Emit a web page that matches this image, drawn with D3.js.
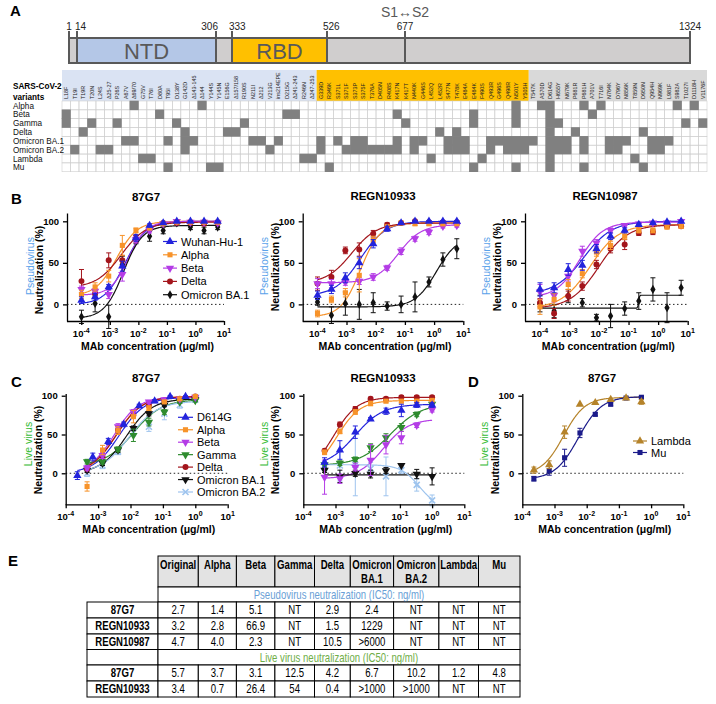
<!DOCTYPE html>
<html><head><meta charset="utf-8">
<script src="https://cdn.jsdelivr.net/npm/d3@7"></script>
<style>body{margin:0;background:#fff}svg{display:block}text{font-family:Arial,"Liberation Sans",sans-serif}</style>
</head><body><svg id="c" width="716" height="704"></svg>
<script>
// ---------------- DATA ----------------
const domainTicks = [1, 14, 306, 333, 526, 677, 1324];
const domainNames = ["NTD", "RBD"];
const domainStarts = [14, 333];
const domainEnds = [306, 526];
const mutations = ["L18F","T19I","T19R","T20N","L24S","Δ25-27","P26S","A67V","Δ69/70","G75V","T76I","D80A","T95I","D138Y","G142D","Δ143-145","Δ144","Y144S","Y145N","E156G","Δ157/158","R190S","N211I","Δ212","V213G","ins214EPE","D215G","Δ241-243","R246N","Δ247-253",
"G339D","R346K","S371L","S371F","S373P","S375F","T376A","D405N","R408S","K417N","K417T","N440K","G446S","L452Q","L452R","S477N","T478K","E484A","E484K","F490S","Q493R","G496S","Q498R","N501Y","Y505H",
"T547K","A570D","D614G","H655Y","N679K","P681R","P681H","A701V","T716I","N764K","D796Y","N856K","T859N","D950N","Q954H","N969K","L981F","S982A","T1027I","D1118H","V1176F"];
const regionCounts = [30, 25, 21];
const variants = ["Alpha","Beta","Gamma","Delta","Omicron BA.1","Omicron BA.2","Lambda","Mu"];
const mutAlpha = ["Δ69/70","Δ144","N501Y","A570D","D614G","P681H","T716I","S982A","D1118H"];
const mutBeta = ["L18F","D80A","D215G","Δ241-243","K417N","E484K","N501Y","D614G","A701V"];
const mutGamma = ["L18F","T20N","P26S","D138Y","R190S","K417T","E484K","N501Y","D614G","H655Y","T1027I","V1176F"];
const mutDelta = ["T19R","G142D","E156G","Δ157/158","L452R","T478K","D614G","P681R","D950N"];
const mutBA1 = ["A67V","Δ69/70","T95I","G142D","Δ143-145","N211I","Δ212","ins214EPE","G339D","S371L","S373P","S375F","K417N","N440K","G446S","S477N","T478K","E484A","Q493R","G496S","Q498R","N501Y","Y505H","T547K","D614G","H655Y","N679K","P681H","N764K","D796Y","N856K","Q954H","N969K","L981F"];
const mutBA2 = ["T19I","L24S","Δ25-27","G142D","V213G","G339D","S371F","S373P","S375F","T376A","D405N","R408S","K417N","N440K","S477N","T478K","E484A","Q493R","Q498R","N501Y","Y505H","D614G","H655Y","N679K","P681H","N764K","D796Y","Q954H","N969K"];
const mutLambda = ["G75V","T76I","R246N","Δ247-253","L452Q","F490S","D614G","T859N"];
const mutMu = ["T95I","Y144S","Y145N","R346K","E484K","N501Y","D614G","P681H","D950N"];

const xTickExps = [-4, -3, -2, -1, 0, 1];
const yTicks = [0, 50, 100];

// Pseudovirus (panel B)
const pvConc = [0.0001016, 0.000305, 0.000914, 0.00274, 0.00823, 0.0247, 0.0741, 0.222, 0.667, 2, 6];
const pvNames = ["Wuhan-Hu-1","Alpha","Beta","Delta","Omicron BA.1"];
const b1Vals = [[5,9,21,46,80,95,98,100,100,100,100],[12,21,34,71,89,92,97,99,99,99,99],[18,16,12,36,78,89,97,100,99,99,98],[28,13,53,53,79,92,98,98,98,97,98],[-15,1,-15,48,78,82,89,98,93,89,93]];
const b1Errs = [[4,4,3,6,4,2,1,1,1,1,1],[5,5,7,12,3,2,2,1,1,1,1],[4,3,5,8,4,3,2,1,1,1,1],[14,4,9,6,4,2,1,1,1,1,1],[8,10,14,10,5,6,4,2,3,4,3]];
const b1Fits = [[0,100,0.0035,1.2],[10,100,0.0017,1.2],[11,100,0.0045,1.4],[20,99,0.0025,1.0],[-17,95,0.003,1.3]];
const b2Vals = [[11,18,32,50,73,91,98,100,100,100,100],[-11,6,14,35,77,93,98,97,97,97,97],[25,25,27,28,33,44,64,79,87,94,95],[25,33,65,66,85,96,98,100,99,99,99],[3,-13,1,0,2,-2,0,9,27,54,67]];
const b2Errs = [[5,5,6,7,5,3,1,1,1,1,1],[4,4,5,20,5,3,2,2,2,2,2],[6,5,4,4,4,3,4,3,3,2,2],[8,8,4,8,4,2,1,1,1,1,1],[4,10,14,18,12,5,10,18,6,8,12]];
const b2Fits = [[10,100,0.003,1.0],[-15,98,0.003,1.3],[26,96,0.06,1.1],[25,98,0.0015,1.0],[-3,82,1.2,1.2]];
const b3Vals = [[18,20,42,47,67,82,89,96,98,99,100],[-3,6,24,37,63,71,82,89,89,93,94],[15,11,34,64,74,89,95,97,98,98,100],[2,-11,10,22,48,67,72,86,87,94,94],[1,-8,10,2,-16,-14,-5,4,18,-4,20]];
const b3Errs = [[8,6,7,6,5,4,3,2,1,1,1],[9,7,6,5,5,5,4,3,3,2,2],[9,8,6,6,4,3,2,2,1,1,1],[5,6,6,5,5,5,6,3,3,2,2],[10,8,8,5,4,14,8,10,14,18,9]];
const b3Fits = [[12,100,0.003,0.9],[-5,96,0.005,0.9],[8,99,0.0022,1.1],[-5,96,0.01,0.9],[-4.5,11,0.22,30]];

// Live virus (panels C, D)
const liveConc = [0.000457, 0.00137, 0.00412, 0.0123, 0.037, 0.111, 0.333, 1];
const liveConcB = [0.000229, 0.000686, 0.00206, 0.00617, 0.0185, 0.0556, 0.167, 0.5];
const liveNames = ["D614G","Alpha","Beta","Gamma","Delta","Omicron BA.1","Omicron BA.2"];
const c1Vals = [[-3,21,41,63,87,93,99,99],[-17,30,55,73,84,92,96,99],[7,23,60,79,92,95,96,98],[15,15,31,49,66,79,92,94],[6,21,56,75,88,94,96,99],[4,13,30,58,77,88,93,95],[0,10,28,53,60,77,88,95]];
const c1Errs = [[5,5,4,3,2,2,1,1],[6,6,5,8,3,2,2,1],[3,4,4,3,2,2,2,1],[3,3,3,8,5,3,2,2],[3,3,4,3,3,2,2,1],[3,3,3,3,3,2,2,2],[4,4,4,5,6,8,4,2]];
const c1Fits = [[0,98,0.0045,1.1],[-2,99,0.0035,1.1],[2,98,0.0032,1.2],[10,95,0.0125,1.0],[0,99,0.0037,1.1],[0,96,0.0075,1.1],[0,93,0.009,1.0]];
const c2Vals = [[14,30,53,70,80,81,88,88],[27,54,79,90,93,93,93,94],[-5,-7,8,17,37,46,62,82],[11,13,18,33,46,59,76,89],[29,63,83,96,96,98,98,98],[4,-4,0,-1,3.5,10,-1,-4],[8,10,11,6,-4,4,-15,-35]];
const c2Errs = [[6,12,8,2,4,8,3,3],[3,3,3,3,2,2,2,2],[22,6,5,20,12,8,3,3],[3,3,3,5,5,5,3,2],[2,3,3,2,2,2,2,2],[3,8,4,5,4,0,6,11],[5,20,40,8,25,4,8,7]];
const c2Fits = [[8,89,0.004,1.0],[0,94,0.0011,1.2],[-7,70,0.03,1.1],[10,90,0.05,0.9],[0,98,0.0009,1.2],[-2,-2,0.01,1],[11,-45,0.4,1.5]];
const dNames = ["Lambda","Mu"];
const dVals = [[4,11,53,89,91,95,97,92],[-7,3.5,20,52,76,89,97,98]];
const dErrs = [[4,5,8,0,0,0,0,3],[3,6,11,6,2,2,1,1]];
const dFits = [[-2,98,0.0019,1.3],[-8,99,0.0055,1.2]];

// Table E
const tableCols = ["Original","Alpha","Beta","Gamma","Delta","Omicron BA.1","Omicron BA.2","Lambda","Mu"];
const pvRowNames = ["87G7","REGN10933","REGN10987"];
const pv87G7 = ["2.7","1.4","5.1","NT","2.9","2.4","NT","NT","NT"];
const pvREGN10933 = ["3.2","2.8","66.9","NT","1.5","1229","NT","NT","NT"];
const pvREGN10987 = ["4.7","4.0","2.3","NT","10.5",">6000","NT","NT","NT"];
const liveRowNames = ["87G7","REGN10933"];
const live87G7 = ["5.7","3.7","3.1","12.5","4.2","6.7","10.2","1.2","4.8"];
const liveREGN10933 = ["3.4","0.7","26.4","54","0.4",">1000",">1000","NT","NT"];

// ---------------- DRAW ----------------
const svg = d3.select("#c");
const GREY = "#595959";
function panelLabel(t, x, y){ svg.append("text").attr("x",x).attr("y",y).attr("font-size",15).attr("font-weight","bold").text(t); }
panelLabel("A",10,16); panelLabel("B",11,204); panelLabel("C",11,387); panelLabel("D",468,387); panelLabel("E",8,566);

// Panel A: domain bar
const xs = d3.scaleLinear().domain(domainTicks).range([69,77,216,232,327,405,690]);
const barTop = 38, barBot = 63;
svg.append("rect").attr("x",xs(1)).attr("y",barTop).attr("width",xs(1324)-xs(1)).attr("height",barBot-barTop).attr("fill","#d0cece");
const domFill = ["#b4c7e7","#ffc000"];
domainNames.forEach((n,i)=>{
  svg.append("rect").attr("x",xs(domainStarts[i])).attr("y",barTop).attr("width",xs(domainEnds[i])-xs(domainStarts[i])).attr("height",barBot-barTop).attr("fill",domFill[i]);
  svg.append("text").attr("x",(xs(domainStarts[i])+xs(domainEnds[i]))/2).attr("y",59).attr("text-anchor","middle").attr("font-size",22).attr("fill",GREY).text(n);
});
svg.append("rect").attr("x",xs(1)).attr("y",barTop).attr("width",xs(1324)-xs(1)).attr("height",barBot-barTop).attr("fill","none").attr("stroke",GREY).attr("stroke-width",2);
const tAnchor = ["middle","start","end","start","start","middle","middle"];
const tDx = [0,-2,2,-3,-4,0,0];
domainTicks.forEach((t,i)=>{
  svg.append("line").attr("x1",xs(t)).attr("x2",xs(t)).attr("y1",31).attr("y2",barBot).attr("stroke",GREY).attr("stroke-width",2);
  svg.append("text").attr("x",xs(t)+tDx[i]).attr("y",29.5).attr("text-anchor",tAnchor[i]).attr("font-size",10).attr("fill","#222").text(t);
});
svg.append("text").attr("x",xs(677)).attr("y",17).attr("text-anchor","middle").attr("font-size",14).attr("fill",GREY).text("S1↔S2");

// Panel A: mutation grid
const gx = d3.scaleBand().domain(mutations).range([62,707]);
const gy = d3.scaleBand().domain(variants).range([101,171.7]);
const regionFill = ["#dae3f3","#ffc000","#d9d9d9"];
let ci = 0;
regionCounts.forEach((n,r)=>{
  const a = gx(mutations[ci]), b = gx(mutations[ci+n-1])+gx.bandwidth();
  svg.append("rect").attr("x",a).attr("y",70).attr("width",b-a).attr("height",31).attr("fill",regionFill[r]);
  ci += n;
});
svg.selectAll(".mlab").data(mutations).join("text")
  .attr("transform",d=>`translate(${gx(d)+gx.bandwidth()/2+2},99) rotate(-90)`)
  .attr("font-size",5.4).attr("fill","#222").text(d=>d);
const vMuts = [mutAlpha,mutBeta,mutGamma,mutDelta,mutBA1,mutBA2,mutLambda,mutMu];
variants.forEach(v=>{
  svg.selectAll(null).data(mutations).join("rect").attr("x",d=>gx(d)).attr("y",gy(v)).attr("width",gx.bandwidth()).attr("height",gy.bandwidth())
    .attr("fill","none").attr("stroke","#cfcfcf").attr("stroke-width",0.6);
});
variants.forEach((v,i)=>{
  svg.selectAll(null).data(vMuts[i]).join("rect").attr("x",d=>gx(d)-0.3).attr("y",gy(v)-0.3).attr("width",gx.bandwidth()+0.6).attr("height",gy.bandwidth()+0.6).attr("fill","#808080");
  svg.append("text").attr("x",13).attr("y",gy(v)+gy.bandwidth()/2+3.2).attr("font-size",8.2).attr("fill","#111").text(v);
});
svg.append("text").attr("x",13).attr("y",88.5).attr("font-size",8.2).attr("font-weight","bold").text("SARS-CoV-2");
svg.append("text").attr("x",13).attr("y",99.5).attr("font-size",8.2).attr("font-weight","bold").text("variants");

// ---- dose response plots ----
const symPath = {
  triUp: d3.symbol(d3.symbolTriangle, 30)(),
  triDown: d3.symbol(d3.symbolTriangle, 30)(),
  square: d3.symbol(d3.symbolSquare, 26)(),
  circle: d3.symbol(d3.symbolCircle, 28)(),
  diamond: d3.symbol(d3.symbolDiamond, 24)(),
  x: "M-3,-3L3,3M-3,3L3,-3"
};
function fit4(p, c){ return p[0] + (p[1]-p[0])/(1+Math.pow(p[2]/c, p[3])); }
function drawMarker(g, type, color, cx, cy){
  const p = g.append("path").attr("d",symPath[type]).attr("transform",`translate(${cx},${cy})${type==="triDown"?" rotate(180)":""}`);
  if(type==="x") p.attr("fill","none").attr("stroke",color).attr("stroke-width",1.6);
  else p.attr("fill",color);
}
function plot(cfg){
  const g = svg.append("g");
  const x = d3.scaleLog().domain([cfg.xMin,10]).range([cfg.left,cfg.right]);
  const y = d3.scaleLinear().domain(cfg.yDom).range([cfg.bottom,cfg.top]);
  g.append("line").attr("x1",cfg.left).attr("x2",cfg.right).attr("y1",y(0)).attr("y2",y(0)).attr("stroke","#222").attr("stroke-width",1).attr("stroke-dasharray","1.5,2.5");
  cfg.series.forEach(s=>{
    const lo=d3.min(s.conc), hi=d3.max(s.conc);
    const pts=d3.range(0,161).map(i=>lo*Math.pow(hi/lo,i/160));
    g.append("path").attr("d",d3.line().x(c=>x(c)).y(c=>y(fit4(s.fit,c)))(pts)).attr("fill","none").attr("stroke",s.color).attr("stroke-width",1.2);
  });
  cfg.series.slice().reverse().forEach(s=>{
    s.conc.forEach((c,i)=>{
      const e=s.errs[i], cx=x(c);
      if(e>0){
        g.append("path").attr("d",`M${cx},${y(s.vals[i]-e)}V${y(s.vals[i]+e)}M${cx-2.5},${y(s.vals[i]-e)}H${cx+2.5}M${cx-2.5},${y(s.vals[i]+e)}H${cx+2.5}`)
          .attr("stroke",s.color).attr("stroke-width",1).attr("fill","none");
      }
      drawMarker(g,s.sym,s.color,cx,y(s.vals[i]));
    });
  });
  const xa = g.append("g").attr("transform",`translate(0,${cfg.bottom})`)
    .call(d3.axisBottom(x).tickValues(xTickExps.map(e=>Math.pow(10,e))).tickSize(4).tickSizeOuter(0).tickFormat(""));
  xa.select(".domain").attr("d",`M${cfg.left},0.5H${cfg.right}`);
  xa.selectAll("line,path").attr("stroke","#000").attr("stroke-width",1.3);
  xTickExps.forEach(e=>{
    const t = g.append("text").attr("x",x(Math.pow(10,e))).attr("y",cfg.bottom+16).attr("text-anchor","middle").attr("font-size",9.5).attr("font-weight","bold");
    t.append("tspan").text("10");
    t.append("tspan").attr("dy",-4).attr("font-size",7).text(e===0?"0":(e>0?String(e):"-"+(-e)));
  });
  const ya = g.append("g").attr("transform",`translate(${cfg.left},0)`)
    .call(d3.axisLeft(y).tickValues(yTicks).tickSize(4).tickSizeOuter(0));
  ya.selectAll("line,path").attr("stroke","#000").attr("stroke-width",1.3);
  ya.selectAll("text").attr("font-size",9.5).attr("font-weight","bold").attr("font-family","Arial, 'Liberation Sans', sans-serif").attr("fill","#000").attr("dx",-1);
  g.append("text").attr("x",cfg.titleX).attr("y",cfg.titleY).attr("text-anchor","middle").attr("font-size",11.5).attr("font-weight","bold").text(cfg.title);
  g.append("text").attr("x",(cfg.left+cfg.right)/2+2).attr("y",cfg.bottom+29).attr("text-anchor","middle").attr("font-size",10.5).attr("font-weight","bold").text("MAb concentration (μg/ml)");
  g.append("text").attr("transform",`translate(${cfg.nX},${cfg.nY}) rotate(-90)`).attr("text-anchor","middle").attr("font-size",10.5).attr("font-weight","bold").text("Neutralization (%)");
  g.append("text").attr("transform",`translate(${cfg.vX},${cfg.vY}) rotate(-90)`).attr("text-anchor","middle").attr("font-size",10.5).attr("fill",cfg.vColor).text(cfg.vLabel);
  if(cfg.legend){
    const L=cfg.legend;
    cfg.series.forEach((s,i)=>{
      const ly=L.y+i*L.dy;
      g.append("line").attr("x1",L.x1).attr("x2",L.x2).attr("y1",ly).attr("y2",ly).attr("stroke",s.color).attr("stroke-width",1.2);
      drawMarker(g,s.sym,s.color,(L.x1+L.x2)/2,ly);
      g.append("text").attr("x",L.tx).attr("y",ly+4).attr("font-size",11).text(s.name);
    });
  }
}
const colBlue="#2323dc", colOrange="#f7932a", colPurple="#b43ce6", colRed="#a3151c", colBlack="#111", colGreen="#2e8b2e", colLBlue="#9ec4ee";
const pvColors=[colBlue,colOrange,colPurple,colRed,colBlack];
const pvSyms=["triUp","square","triDown","circle","diamond"];
const liveColors=[colBlue,colOrange,colPurple,colGreen,colRed,colBlack,colLBlue];
const liveSyms=["triUp","square","triDown","triDown","circle","triDown","x"];
function mk(names, colors, syms, concs, vals, errs, fits){
  return names.map((n,i)=>({name:n,color:colors[i],sym:syms[i],conc:Array.isArray(concs[0])?concs[i]:concs,vals:vals[i],errs:errs[i],fit:fits[i]}));
}
const PV="#5aa2ea", LV="#33bb33";
const bY={top:213,bottom:321,yDom:[-20,110],xMin:Math.pow(10,-4.5)};
plot(Object.assign({},bY,{left:67,right:224,title:"87G7",titleX:146,titleY:201,nX:43,nY:270,vX:33.5,vY:266,vLabel:"Pseudovirus",vColor:PV,
  series:mk(pvNames,pvColors,pvSyms,pvConc,b1Vals,b1Errs,b1Fits),legend:{x1:163,x2:177,tx:181,y:241.5,dy:13.3}}));
plot(Object.assign({},bY,{left:302.7,right:463.3,title:"REGN10933",titleX:383,titleY:200,nX:278.5,nY:267,vX:268,vY:266,vLabel:"Pseudovirus",vColor:PV,
  series:mk(pvNames,pvColors,pvSyms,pvConc,b2Vals,b2Errs,b2Fits)}));
plot(Object.assign({},bY,{left:525,right:687.7,title:"REGN10987",titleX:605,titleY:200,nX:500.5,nY:267,vX:489.5,vY:266,vLabel:"Pseudovirus",vColor:PV,
  series:mk(pvNames,pvColors,pvSyms,pvConc,b3Vals,b3Errs,b3Fits)}));
const cY={top:393.4,bottom:504.3,yDom:[-40,103],xMin:1e-4};
const c1Concs=[liveConcB,liveConc,liveConc,liveConc,liveConc,liveConc,liveConc];
plot(Object.assign({},cY,{left:65.7,right:227.7,title:"87G7",titleX:146,titleY:382,nX:42,nY:450,vX:31.5,vY:444,vLabel:"Live virus",vColor:LV,
  series:mk(liveNames,liveColors,liveSyms,c1Concs,c1Vals,c1Errs,c1Fits),legend:{x1:178,x2:193,tx:197,y:417.3,dy:12.45}}));
plot(Object.assign({},cY,{left:303.3,right:464.3,title:"REGN10933",titleX:383,titleY:382,nX:278.5,nY:450,vX:268,vY:444,vLabel:"Live virus",vColor:LV,
  series:mk(liveNames,liveColors,liveSyms,liveConc,c2Vals,c2Errs,c2Fits)}));
plot(Object.assign({},cY,{left:522.3,right:683.3,title:"87G7",titleX:602,titleY:382,nX:498.5,nY:450,vX:487.5,vY:444,vLabel:"Live virus",vColor:LV,
  series:mk(dNames,["#b5832a","#1b1b8a"],["triUp","square"],liveConcB,dVals,dErrs,dFits),legend:{x1:633,x2:647,tx:651,y:441,dy:11.5}}));

// ---- Table E ----
const colEdges=[158,198.3,236.4,274.9,314.5,350.3,393.6,438.9,478.5,520];
const tLeft=87;
const rowEdges=[556,587,602,618,634,649.5,665,681,697];
const tg=svg.append("g");
function cell(x0,x1,y0,y1,fill){ tg.append("rect").attr("x",x0).attr("y",y0).attr("width",x1-x0).attr("height",y1-y0).attr("fill",fill||"#fff").attr("stroke","#000").attr("stroke-width",1); }
function ctext(x,y,t,opt){
  const e=tg.append("text").attr("transform",`translate(${x},${y}) scale(0.8,1)`).attr("text-anchor","middle").attr("font-size",12).text(t);
  if(opt&&opt.bold) e.attr("font-weight","bold"); if(opt&&opt.fill) e.attr("fill",opt.fill); return e; }
tableCols.forEach((c,i)=>{
  cell(colEdges[i],colEdges[i+1],rowEdges[0],rowEdges[1],"#e3e3e3");
  const parts=c.split(" ");
  const cx=(colEdges[i]+colEdges[i+1])/2;
  if(parts.length===2){ ctext(cx,rowEdges[0]+12.5,parts[0],{bold:true}); ctext(cx,rowEdges[0]+26.5,parts[1],{bold:true}); }
  else ctext(cx,rowEdges[0]+12.5,c,{bold:true});
});
function titleRow(r,t,col,withLabel){
  if(withLabel) cell(tLeft,colEdges[0],rowEdges[r],rowEdges[r+1]);
  cell(colEdges[0],colEdges[colEdges.length-1],rowEdges[r],rowEdges[r+1]);
  ctext((colEdges[0]+colEdges[colEdges.length-1])/2,(rowEdges[r]+rowEdges[r+1])/2+4.3,t,{fill:col});
}
function dataRow(r,name,vals){
  const ty=(rowEdges[r]+rowEdges[r+1])/2+4.3;
  cell(tLeft,colEdges[0],rowEdges[r],rowEdges[r+1]);
  ctext((tLeft+colEdges[0])/2,ty,name,{bold:true});
  vals.forEach((v,i)=>{ cell(colEdges[i],colEdges[i+1],rowEdges[r],rowEdges[r+1]); ctext((colEdges[i]+colEdges[i+1])/2,ty,v); });
}
titleRow(1,"Pseudovirus neutralization (IC50: ng/ml)","#6a9fd6",false);
[pv87G7,pvREGN10933,pvREGN10987].forEach((v,i)=>dataRow(2+i,pvRowNames[i],v));
titleRow(5,"Live virus neutralization (IC50: ng/ml)","#6fae47",true);
[live87G7,liveREGN10933].forEach((v,i)=>dataRow(6+i,liveRowNames[i],v));
</script></body></html>
